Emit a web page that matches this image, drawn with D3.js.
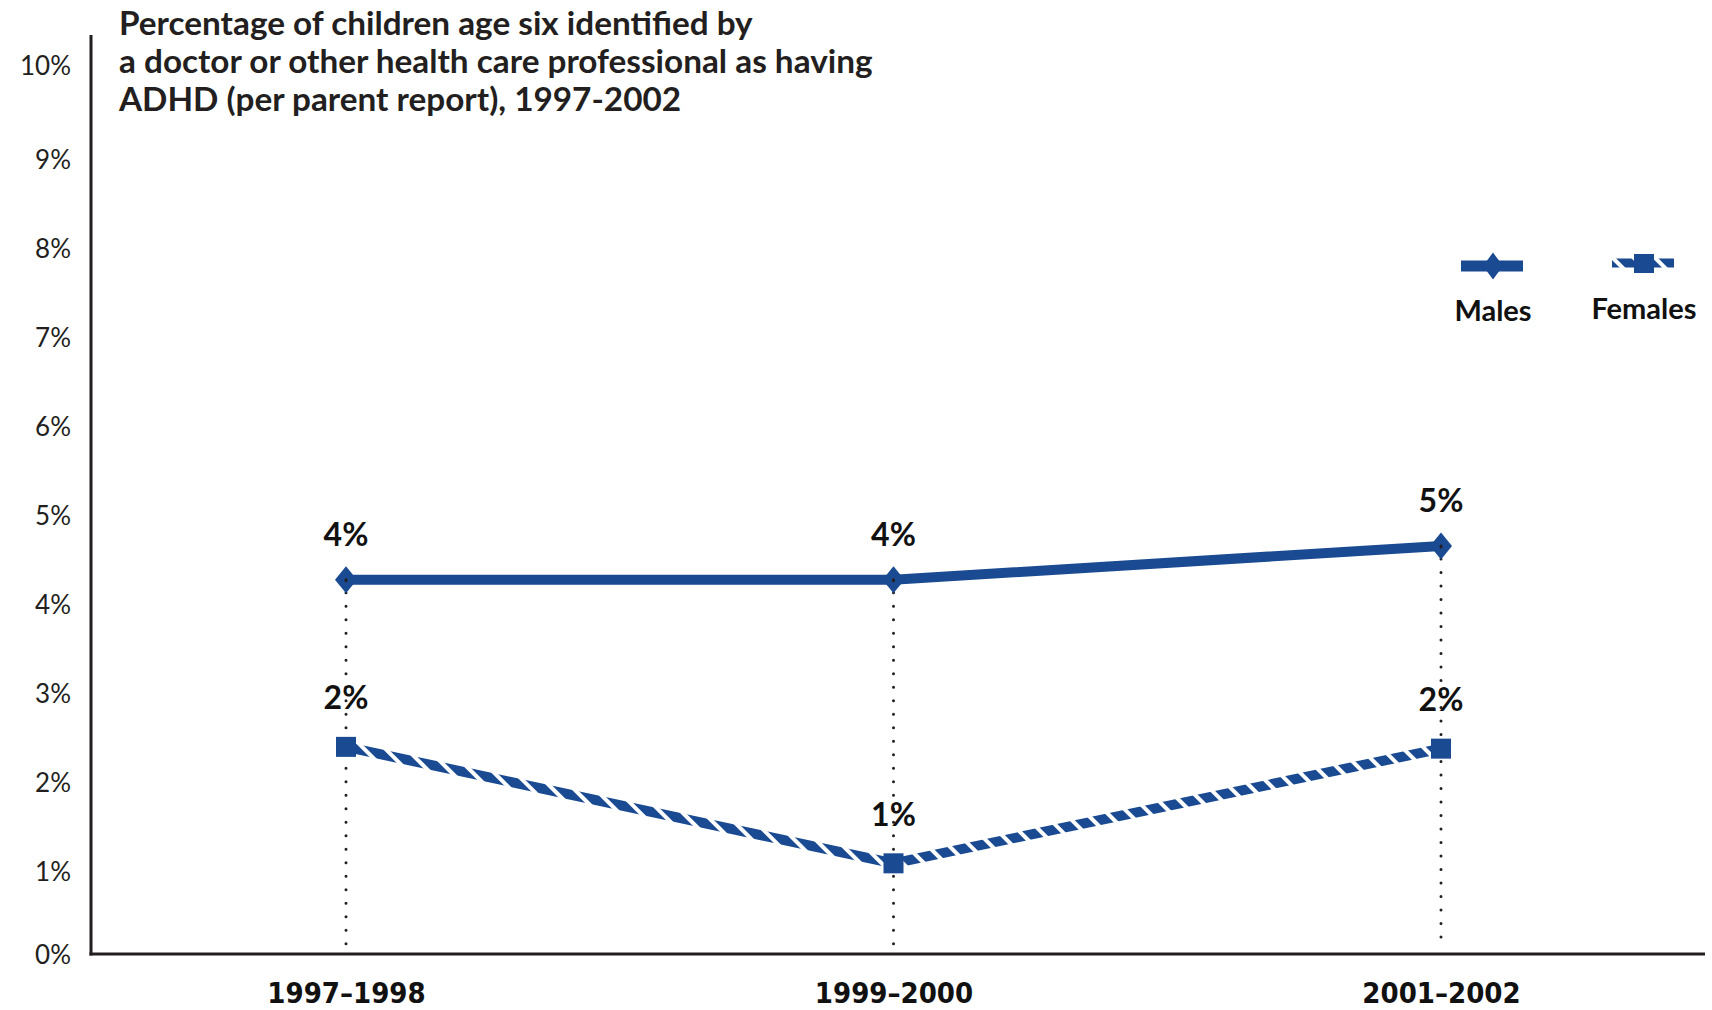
<!DOCTYPE html>
<html>
<head>
<meta charset="utf-8">
<script src="https://cdn.jsdelivr.net/npm/d3@7"></script>
<style>
  html, body { margin: 0; padding: 0; background: #ffffff; }
  svg { display: block; }
</style>
</head>
<body>
<svg id="chart" width="1712" height="1010"></svg>
<script>
// ---- Data ----
const categories = ["1997\u20131998", "1999\u20132000", "2001\u20132002"];
const malesValues = [4.21, 4.21, 4.59];
const femalesValues = [2.33, 1.02, 2.31];
const maleLabels = ["4%", "4%", "5%"];
const femaleLabels = ["2%", "1%", "2%"];
const yTicks = [0, 1, 2, 3, 4, 5, 6, 7, 8, 9, 10];
const seriesNames = ["Males", "Females"];
const titleLines = [
  "Percentage of children age six identified by",
  "a doctor or other health care professional as having",
  "ADHD (per parent report), 1997-2002"
];

// ---- Setup ----
const blue = "#1a4a91";
const ink = "#231f20";
const svg = d3.select("#chart");
const defs = svg.append("defs");

const pat = defs.append("pattern")
  .attr("id", "hatch")
  .attr("patternUnits", "userSpaceOnUse")
  .attr("width", 15).attr("height", 15)
  .attr("patternTransform", "rotate(-45)");
pat.append("rect").attr("width", 15).attr("height", 15).attr("fill", "#ffffff");
pat.append("rect").attr("x", 0).attr("y", 0).attr("width", 11).attr("height", 15).attr("fill", blue);

const axisX = 91, axisBottom = 954, axisTop = 35, axisRight = 1705;

const x = d3.scalePoint().domain(categories).range([346, 1441]);
const y = d3.scaleLinear().domain([0, 10]).range([954, 65]);

// ---- Title ----
const title = svg.append("g").attr("font-family", "Lato, 'Open Sans', sans-serif")
  .attr("font-weight", "bold").attr("fill", ink);
const titleY = [22, 60, 98];
const tTexts = title.selectAll("text").data(titleLines).join("text")
  .attr("x", 119).attr("y", (d, i) => titleY[i])
  .attr("dominant-baseline", "central")
  .attr("font-size", 27)
  .text(d => d);
const l2 = tTexts.nodes()[1];
const w2 = l2.getComputedTextLength();
tTexts.attr("font-size", 27 * 754 / w2);

// ---- Y axis ----
const yAxis = d3.axisLeft(y).tickValues(yTicks).tickFormat(d => d + "%").tickSize(0).tickPadding(0);
const gy = svg.append("g").attr("transform", `translate(71,0)`).call(yAxis);
gy.select(".domain").remove();
gy.selectAll("text")
  .attr("font-family", "Lato, 'Open Sans', sans-serif")
  .attr("font-size", 26)
  .attr("fill", ink)
  .attr("dy", (d) => (d > 0 && d < 10 ? 6 : 0) + 9);

svg.append("line").attr("x1", axisX).attr("x2", axisX).attr("y1", axisTop).attr("y2", axisBottom + 1.5)
  .attr("stroke", ink).attr("stroke-width", 3);
svg.append("line").attr("x1", axisX - 1.5).attr("x2", axisRight).attr("y1", axisBottom).attr("y2", axisBottom)
  .attr("stroke", ink).attr("stroke-width", 3);

// ---- X axis labels ----
const xAxis = d3.axisBottom(x).tickSize(0).tickPadding(0);
const gx = svg.append("g").attr("transform", `translate(0,993)`).call(xAxis);
gx.select(".domain").remove();
gx.selectAll("text")
  .attr("font-family", "'DejaVu Sans Condensed', 'DejaVu Sans', sans-serif")
  .attr("font-stretch", "condensed")
  .attr("font-weight", "bold")
  .attr("font-size", 29)
  .attr("fill", "#111")
  .attr("dy", "0.35em");

// ---- Dotted drop lines ----
svg.append("g").selectAll("line").data(categories).join("line")
  .attr("x1", d => x(d)).attr("x2", d => x(d))
  .attr("y1", (d, i) => y(malesValues[i]) + 13)
  .attr("y2", axisBottom - 8)
  .attr("stroke", ink).attr("stroke-width", 3)
  .attr("stroke-linecap", "round")
  .attr("stroke-dasharray", "0 13.5");

// ---- Lines ----
const line = d3.line().x(d => x(d.c)).y(d => y(d.v));
const maleData = categories.map((c, i) => ({ c, v: malesValues[i] }));
const femaleData = categories.map((c, i) => ({ c, v: femalesValues[i] }));

svg.append("path").datum(femaleData).attr("d", line)
  .attr("fill", "none").attr("stroke", "url(#hatch)").attr("stroke-width", 10);
svg.append("path").datum(maleData).attr("d", line)
  .attr("fill", "none").attr("stroke", blue).attr("stroke-width", 10);

const diamond = (cx, cy, w, h) => `M${cx},${cy - h / 2}L${cx + w / 2},${cy}L${cx},${cy + h / 2}L${cx - w / 2},${cy}Z`;
svg.append("g").selectAll("path").data(maleData).join("path")
  .attr("d", d => diamond(x(d.c), y(d.v), 22, 27))
  .attr("fill", blue);
svg.append("g").selectAll("rect").data(femaleData).join("rect")
  .attr("x", d => x(d.c) - 10).attr("y", d => y(d.v) - 10)
  .attr("width", 20).attr("height", 20)
  .attr("fill", blue);

svg.append("g").selectAll("line").data(categories).join("line")
  .attr("x1", d => x(d)).attr("x2", d => x(d))
  .attr("y1", (d, i) => y(malesValues[i]))
  .attr("y2", (d, i) => y(malesValues[i]) + 1)
  .attr("stroke", ink).attr("stroke-width", 3).attr("stroke-linecap", "round");

// ---- Value labels ----
const lblFont = "Lato, 'Open Sans', sans-serif";
svg.append("g").selectAll("text").data(maleData).join("text")
  .attr("x", d => x(d.c)).attr("y", d => y(d.v) - 46)
  .attr("text-anchor", "middle").attr("dominant-baseline", "central")
  .attr("font-family", lblFont).attr("font-weight", "bold").attr("font-size", 32)
  .attr("fill", "#111")
  .text((d, i) => maleLabels[i]);
svg.append("g").selectAll("text").data(femaleData).join("text")
  .attr("x", d => x(d.c)).attr("y", d => y(d.v) - 50)
  .attr("text-anchor", "middle").attr("dominant-baseline", "central")
  .attr("font-family", lblFont).attr("font-weight", "bold").attr("font-size", 32)
  .attr("fill", "#111")
  .text((d, i) => femaleLabels[i]);

// ---- Legend ----
const leg = svg.append("g");
leg.append("line").attr("x1", 1461).attr("x2", 1523).attr("y1", 266).attr("y2", 266)
  .attr("stroke", blue).attr("stroke-width", 11);
leg.append("path").attr("d", diamond(1493, 266, 20, 27)).attr("fill", blue);
leg.append("line").attr("x1", 1612).attr("x2", 1674).attr("y1", 263).attr("y2", 263)
  .attr("stroke", "url(#hatch)").attr("stroke-width", 9);
leg.append("rect").attr("x", 1634).attr("y", 254).attr("width", 20).attr("height", 19).attr("fill", blue);

leg.selectAll("text").data(seriesNames).join("text")
  .attr("x", (d, i) => i === 0 ? 1493 : 1644)
  .attr("y", (d, i) => i === 0 ? 309 : 307)
  .attr("text-anchor", "middle").attr("dominant-baseline", "central")
  .attr("font-family", lblFont).attr("font-weight", "bold").attr("font-size", 29)
  .attr("fill", "#111")
  .text(d => d);
</script>
</body>
</html>
